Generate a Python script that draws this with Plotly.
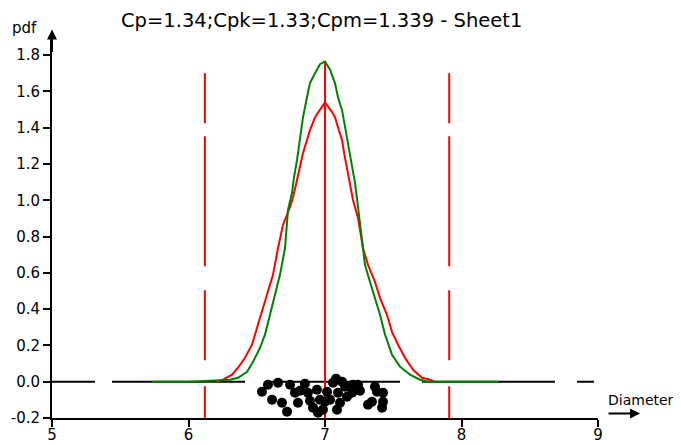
import plotly.graph_objects as go

# ---------------- data ----------------
title_text = "Cp=1.34;Cpk=1.33;Cpm=1.339 - Sheet1"
x_label = "Diameter"
y_label = "pdf"

x_ticks = [5, 6, 7, 8, 9]
y_ticks = [-0.2, 0.0, 0.2, 0.4, 0.6, 0.8, 1.0, 1.2, 1.4, 1.6, 1.8]

lsl = 6.12
usl = 7.91
target = 7.0
limit_top = 1.70
target_top = 1.76

# fitted normal curve (green)
green_x = [5.73, 6.00, 6.304, 6.363, 6.429, 6.473, 6.524, 6.560, 6.597, 6.634,
           6.670, 6.707, 6.729, 6.758, 6.773, 6.795, 6.817, 6.839, 6.868, 6.890,
           6.927, 6.963, 7.000, 7.037, 7.073, 7.095, 7.125, 7.147, 7.168, 7.198,
           7.220, 7.242, 7.271, 7.293, 7.330, 7.366, 7.403, 7.440, 7.491, 7.549,
           7.623, 7.696, 7.750, 8.270]
green_y = [0.0, 0.0, 0.011, 0.022, 0.055, 0.110, 0.187, 0.259, 0.369, 0.479,
           0.589, 0.737, 0.947, 1.040, 1.128, 1.222, 1.348, 1.458, 1.568, 1.646,
           1.700, 1.750, 1.765, 1.720, 1.646, 1.568, 1.497, 1.403, 1.293, 1.183,
           1.095, 0.963, 0.793, 0.644, 0.550, 0.462, 0.369, 0.259, 0.149, 0.083,
           0.039, 0.011, 0.0, 0.0]

# estimated density curve (red)
red_x = [6.200, 6.253, 6.319, 6.363, 6.414, 6.465, 6.502, 6.538, 6.575, 6.619,
         6.656, 6.692, 6.744, 6.766, 6.795, 6.817, 6.839, 6.868, 6.890, 6.927,
         6.963, 7.000, 7.051, 7.073, 7.095, 7.125, 7.140, 7.161, 7.183, 7.205,
         7.242, 7.278, 7.315, 7.366, 7.403, 7.454, 7.491, 7.535, 7.586, 7.645,
         7.711, 7.769, 7.800]
red_y = [0.0, 0.011, 0.039, 0.077, 0.132, 0.204, 0.297, 0.385, 0.479, 0.589,
         0.737, 0.864, 0.963, 1.018, 1.112, 1.183, 1.260, 1.332, 1.387, 1.458,
         1.497, 1.540, 1.486, 1.458, 1.403, 1.332, 1.260, 1.183, 1.095, 1.002,
         0.903, 0.737, 0.644, 0.550, 0.462, 0.369, 0.275, 0.204, 0.132, 0.066,
         0.022, 0.011, 0.0]

# individual measurements (jittered below zero)
pts_x = [6.538, 6.582, 6.612, 6.656, 6.685, 6.722, 6.744, 6.780, 6.802, 6.853,
         6.875, 6.890, 6.912, 6.941, 6.949, 6.963, 6.985, 7.015, 7.037, 7.059,
         7.081, 7.095, 7.110, 7.088, 7.147, 7.161, 7.198, 7.205, 7.242, 7.256,
         7.315, 7.344, 7.366, 7.381, 7.425, 7.418, 7.425, 6.817, 7.000, 7.125]
pts_y = [-0.055, -0.017, -0.099, -0.006, -0.116, -0.165, -0.017, -0.061, -0.116, -0.011,
         -0.061, -0.105, -0.143, -0.044, -0.171, -0.099, -0.154, -0.055, -0.099, -0.006,
         0.017, -0.061, -0.116, -0.154, -0.028, -0.083, -0.061, -0.017, -0.017, -0.050,
         -0.127, -0.110, -0.028, -0.055, -0.110, -0.143, -0.061, -0.050, -0.110, 0.000]

zero_x = [5.0, 8.97]
zero_y = [0.0, 0.0]

# ---------------- figure ----------------
fig = go.Figure()

# zero reference line (black, long dashes)
fig.add_trace(go.Scatter(x=zero_x, y=zero_y, mode="lines",
                         line=dict(color="black", width=2,
                                   dash="43px,17px,133px,22px,133px,22px,133px,22px,133px"),
                         hoverinfo="skip"))

# spec limits (red dashed)
for xv in (lsl, usl):
    fig.add_trace(go.Scatter(x=[xv, xv], y=[limit_top, -0.2], mode="lines",
                             line=dict(color="#ff0000", width=2,
                                       dash="50px,13px,130px,24px,70px,26px,40px"),
                             hoverinfo="skip"))

# target line
fig.add_trace(go.Scatter(x=[target, target], y=[-0.2, target_top], mode="lines",
                         line=dict(color="#ff0000", width=2), hoverinfo="skip"))

# points
fig.add_trace(go.Scatter(x=pts_x, y=pts_y, mode="markers",
                         marker=dict(color="black", size=10, line=dict(width=0)),
                         hoverinfo="skip"))

# curves
fig.add_trace(go.Scatter(x=red_x, y=red_y, mode="lines",
                         line=dict(color="#ff0000", width=2), hoverinfo="skip"))
fig.add_trace(go.Scatter(x=green_x, y=green_y, mode="lines",
                         line=dict(color="#008000", width=2), hoverinfo="skip"))

font_family = "DejaVu Sans, Arial, sans-serif"

fig.update_layout(
    width=681, height=445,
    margin=dict(l=44, r=91, t=29, b=35, autoexpand=False),
    paper_bgcolor="white", plot_bgcolor="white",
    showlegend=False,
    font=dict(family=font_family, size=15, color="black"),
    xaxis=dict(range=[5, 9], tickvals=x_ticks, ticktext=[str(v) for v in x_ticks],
               showgrid=False, zeroline=False, showline=True, linecolor="black",
               linewidth=2, ticks="outside", ticklen=7, tickwidth=2, tickcolor="black",
               ticklabelstandoff=-5,
               tickfont=dict(size=15), automargin=False, fixedrange=True),
    yaxis=dict(range=[-0.2, 1.9], tickvals=y_ticks,
               ticktext=["%.1f" % v for v in y_ticks],
               showgrid=False, zeroline=False, showline=True, linecolor="black",
               linewidth=2, ticks="outside", ticklen=7, tickwidth=2, tickcolor="black",
               tickfont=dict(size=15), automargin=False, fixedrange=True),
    annotations=[
        dict(text=title_text, xref="paper", yref="paper", x=0.4945, y=1.0,
             yshift=17, xanchor="center", yanchor="middle", showarrow=False,
             font=dict(size=19.5)),
        dict(text=y_label, xref="paper", yref="paper", x=-0.05, y=1.0, yshift=9,
             xanchor="center", yanchor="middle", showarrow=False, font=dict(size=15)),
        dict(text=x_label, xref="paper", yref="y", x=1.078, y=-0.1,
             xanchor="center", yanchor="middle", showarrow=False, font=dict(size=14)),
        # y axis arrow
        dict(text="", xref="paper", yref="paper", x=0, y=1.02, ax=0, ay=24,
             showarrow=True, arrowhead=2, arrowsize=1, arrowwidth=2, arrowcolor="black"),
        # x axis arrow
        dict(text="", xref="paper", yref="y", x=1.077, y=-0.175, ax=-33, ay=0,
             showarrow=True, arrowhead=2, arrowsize=1, arrowwidth=2, arrowcolor="black"),
    ],
)

fig.write_html("out.html")
